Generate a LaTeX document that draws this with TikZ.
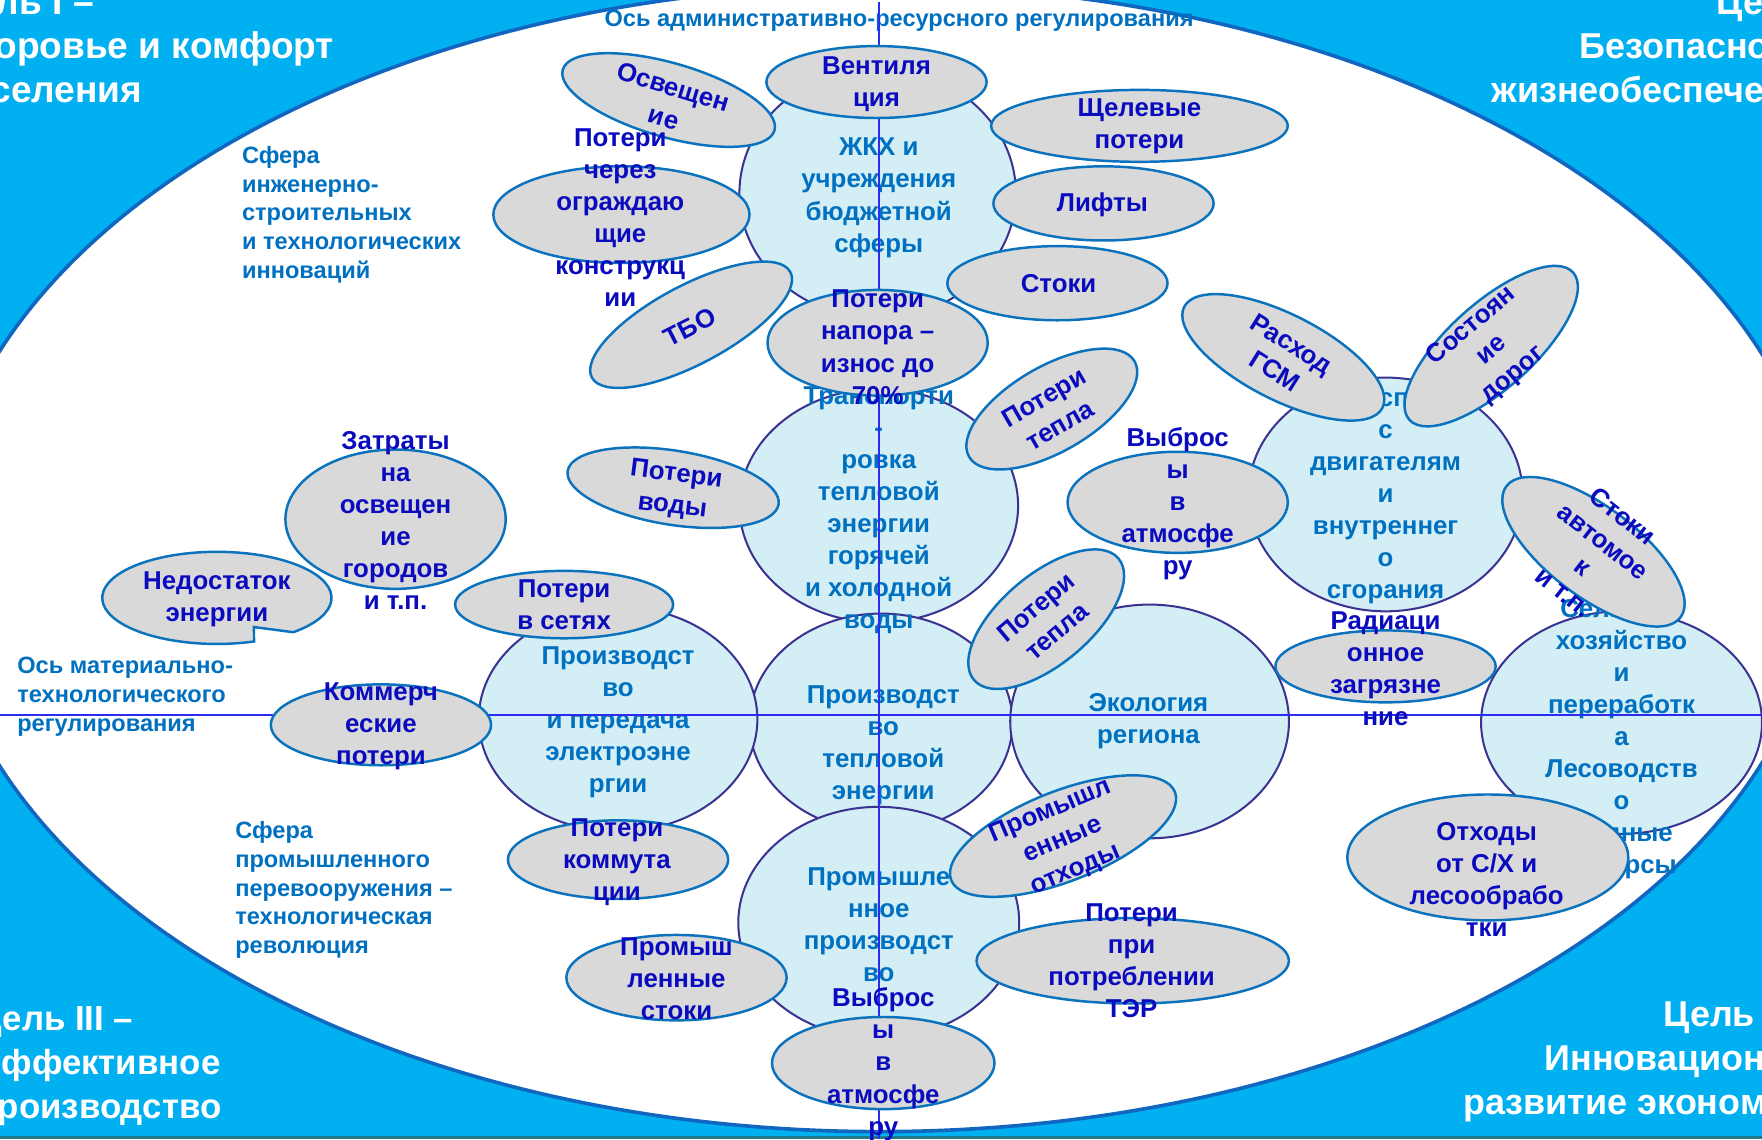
\documentclass[tikz,border=0pt]{standalone}
\usepackage{fontspec}
\setmainfont{Liberation Sans}
\usetikzlibrary{shapes.geometric}
\definecolor{bgblue}{HTML}{00B0F0}
\definecolor{rimblue}{HTML}{1166C0}
\definecolor{circfill}{HTML}{D3EEF4}
\definecolor{circdraw}{HTML}{3B3391}
\definecolor{grayfill}{HTML}{D9D9D9}
\definecolor{graydraw}{HTML}{0B72BE}
\definecolor{textdark}{HTML}{0A0ABE}
\definecolor{textmid}{HTML}{0070C0}
\definecolor{axisblue}{HTML}{2C2CF0}
\definecolor{stripteal}{HTML}{1F7A8A}
\begin{document}
\begin{tikzpicture}[x=0.5pt,y=-0.5pt,
  circ/.style={ellipse, draw=circdraw, fill=circfill, line width=0.9pt, inner sep=0pt},
  grayell/.style={ellipse, draw=graydraw, fill=grayfill, line width=1.1pt, inner sep=0pt},
  grayshape/.style={draw=graydraw, fill=grayfill, line width=1.1pt},
  ctext/.style={text=textmid, font=\fontsize{11.5}{14.25}\selectfont\bfseries, align=center, inner sep=0pt},
  etext/.style={text=textdark, font=\fontsize{11.5}{14.25}\selectfont\bfseries, align=center, inner sep=0pt},
  note/.style={text=textmid, font=\fontsize{10.5}{12.75}\selectfont\bfseries, align=left, inner sep=0pt},
  corner/.style={text=white, font=\fontsize{16}{19.5}\selectfont\bfseries, inner sep=0pt},
  axisline/.style={draw=axisblue, line width=0.8pt}
]
\useasboundingbox (0,0) rectangle (1568,1014);
\clip (0,0) rectangle (1568,1014);
% background
\fill[bgblue] (0,0) rectangle (1568,1014);
\filldraw[fill=white, draw=rimblue, line width=1.6pt] (783,497) ellipse [x radius=840, y radius=510];
\fill[stripteal] (0,1011) rectangle (1568,1014);

% corner goals
\node[corner, anchor=west, align=left, font=\fontsize{16.5}{19.5}\selectfont\bfseries] (goal1) at (-47,41) {Цель I –\\Здоровье и комфорт\\населения};
\node[corner, anchor=east, align=right] (goal2) at (1628,41) {Цель II –\hspace*{-17.5pt}\\Безопасность\\жизнеобеспечения};
\node[corner, anchor=west, align=left, font=\fontsize{15.5}{19.5}\selectfont\bfseries] (goal3) at (-21,949) {Цель III –\\Эффективное\\производство};
\node[corner, anchor=east, align=right] (goal4) at (1628,945) {Цель IV –\\Инновационное\\развитие экономики};

% annotations
\node[note] (axisA) at (800,18) {Ось административно-ресурсного регулирования};
\node[note, anchor=west] (sph1) at (215,191) {Сфера\\инженерно-\\строительных\\и технологических\\инноваций};
\node[note, anchor=west] (sph2) at (209,792) {Сфера\\промышленного\\перевооружения –\\технологическая\\революция};
\node[note, anchor=west] (axisM) at (15,620) {Ось материально-\\технологического\\регулирования};

% circles
\node[circ, minimum width=123pt, minimum height=111pt] (zkh) at (781,172) {};
\node[circ, minimum width=124pt, minimum height=104pt] (transp) at (782,450) {};
\node[circ, minimum width=117pt, minimum height=97pt] (teplo) at (784,643) {};
\node[circ, minimum width=124pt, minimum height=100pt] (elec) at (550,640) {};
\node[circ, minimum width=124pt, minimum height=104pt] (eco) at (1023,642) {};
\node[circ, minimum width=125pt, minimum height=103pt] (prom) at (782,821) {};
\node[circ, minimum width=122pt, minimum height=104pt] (auto) at (1233,440) {};
\node[circ, minimum width=125pt, minimum height=99pt] (agri) at (1443,643) {};

% circle texts
\node[ctext] (zkhT) at (782,176) {ЖКХ и\\учреждения\\бюджетной\\сферы};
\node[ctext] (transpT) at (782,454) {Транспорти\\-\\ровка\\тепловой\\энергии\\горячей\\и холодной\\воды};
\node[ctext] (teploT) at (786,663) {Производст\\во\\тепловой\\энергии};
\node[ctext] (elecT) at (550,643) {Производст\\во\\и передача\\электроэне\\ргии};
\node[ctext] (ecoT) at (1022,642) {Экология\\региона};
\node[ctext] (promT) at (782,823) {Промышле\\нное\\производст\\во};
\node[ctext] (autoT) at (1233,442) {Транспорт\\с\\двигателям\\и\\внутреннег\\о\\сгорания};
\node[ctext] (agriT) at (1443,658) {Сельское\\хозяйство\\и\\переработк\\а\\Лесоводств\\о\\Водные\\ресурсы};

% axes
\coordinate (axT) at (782,2);
\coordinate (axB) at (782,1014);
\coordinate (axL) at (0,636);
\coordinate (axR) at (1568,636);
\draw[axisline] (axT) -- (axB);
\draw[axisline] (axL) -- (axR);

% gray ellipses
\node[grayell, minimum width=98pt, minimum height=32pt] (vent) at (780,73) {};
\node[grayell, minimum width=98pt, minimum height=33pt, rotate=-16] (osv) at (595,89) {};
\node[grayell, minimum width=132pt, minimum height=32pt] (shel) at (1014,112) {};
\node[grayell, minimum width=98pt, minimum height=33pt] (lift) at (982,181) {};
\node[grayell, minimum width=98pt, minimum height=33pt] (stok) at (941,252) {};
\node[grayell, minimum width=114pt, minimum height=43pt] (ograzh) at (553,191) {};
\node[grayell, minimum width=100pt, minimum height=35pt, rotate=28] (tbo) at (615,289) {};
\node[grayell, minimum width=98pt, minimum height=47pt] (napor) at (781,305) {};
\node[grayell, minimum width=85pt, minimum height=38pt, rotate=30] (tepl1) at (936,364) {};
\node[grayell, minimum width=95pt, minimum height=33pt, rotate=-9] (voda) at (599,434) {};
\node[grayell, minimum width=98pt, minimum height=45pt] (vybr1) at (1048,447) {};
\node[grayell, minimum width=99pt, minimum height=38pt, rotate=-27] (gsm) at (1142,318) {};
\node[grayell, minimum width=98pt, minimum height=38pt, rotate=42] (dorog) at (1327,308) {};
\node[grayell, minimum width=97pt, minimum height=40pt, rotate=-37] (avtom) at (1418,491) {};
\node[grayell, minimum width=98pt, minimum height=62pt] (zatr) at (352,462) {};
\filldraw[grayshape] (226,558) -- (261,562.6) arc[start angle=48.2, end angle=-288.9, x radius=102, y radius=41] -- cycle;
\coordinate (nedost) at (193,532);
\node[grayell, minimum width=97pt, minimum height=30pt] (seti) at (502,538) {};
\node[grayell, minimum width=98pt, minimum height=36pt] (komm) at (339,645) {};
\node[grayell, minimum width=84pt, minimum height=40pt, rotate=40] (tepl2) at (931,551) {};
\node[grayell, minimum width=98pt, minimum height=32pt] (rad) at (1233,593) {};
\node[grayell, minimum width=98pt, minimum height=35pt] (kommut) at (550,765) {};
\node[grayell, minimum width=107pt, minimum height=40pt, rotate=21.5] (promotx) at (946,744) {};
\node[grayell, minimum width=98pt, minimum height=38pt] (promst) at (602,870) {};
\node[grayell, minimum width=139pt, minimum height=38pt] (poter) at (1008,855) {};
\node[grayell, minimum width=99pt, minimum height=41pt] (vybr2) at (786,946) {};
\node[grayell, minimum width=125pt, minimum height=56pt] (otx) at (1324,763) {};

% gray ellipse texts
\node[etext] (ventT) at (780,75) {Вентиля\\ция};
\node[etext, rotate=-17] (osvT) at (595,91) {Освещен\\ие};
\node[etext] (shelT) at (1014,112) {Щелевые\\потери};
\node[etext] (liftT) at (981,182) {Лифты};
\node[etext] (stokT) at (942,252) {Стоки};
\node[etext] (ograzhT) at (552,194) {Потери\\через\\ограждаю\\щие\\конструкц\\ии};
\node[etext, rotate=27] (tboT) at (614,291) {ТБО};
\node[etext] (naporT) at (781,309) {Потери\\напора –\\износ до\\70\%};
\node[etext, rotate=30] (tepl1T) at (936,366) {Потери\\тепла};
\node[etext, rotate=-7] (vodaT) at (600,437) {Потери\\воды};
\node[etext] (vybr1T) at (1048,448) {Выброс\\ы\\в\\атмосфе\\ру};
\node[etext, rotate=-32] (gsmT) at (1142,318) {Расход\\ГСМ};
\node[etext, rotate=40] (dorogT) at (1328,312) {Состоян\\ие\\дорог};
\node[etext, rotate=-38] (avtomT) at (1418,493) {Стоки\\автомое\\к\\и т.п.};
\node[etext] (zatrT) at (352,463) {Затраты\\на\\освещен\\ие\\городов\\и т.п.};
\node[etext] (nedostT) at (193,533) {Недостаток\\энергии};
\node[etext] (setiT) at (502,538) {Потери\\в сетях};
\node[etext] (kommT) at (339,646) {Коммерч\\еские\\потери};
\node[etext, rotate=40] (tepl2T) at (931,551) {Потери\\тепла};
\node[etext] (radT) at (1233,595) {Радиаци\\онное\\загрязне\\ние};
\node[etext] (kommutT) at (549,767) {Потери\\коммута\\ции};
\node[etext, rotate=23] (promotxT) at (946,748) {Промышл\\енные\\отходы};
\node[etext] (promstT) at (602,871) {Промыш\\ленные\\стоки};
\node[etext] (poterT) at (1007,855) {Потери\\при\\потреблении\\ТЭР};
\node[etext] (vybr2T) at (786,947) {Выброс\\ы\\в\\атмосфе\\ру};
\node[etext] (otxT) at (1323,783) {Отходы\\от С/Х и\\лесообрабо\\тки};
\end{tikzpicture}
\end{document}
